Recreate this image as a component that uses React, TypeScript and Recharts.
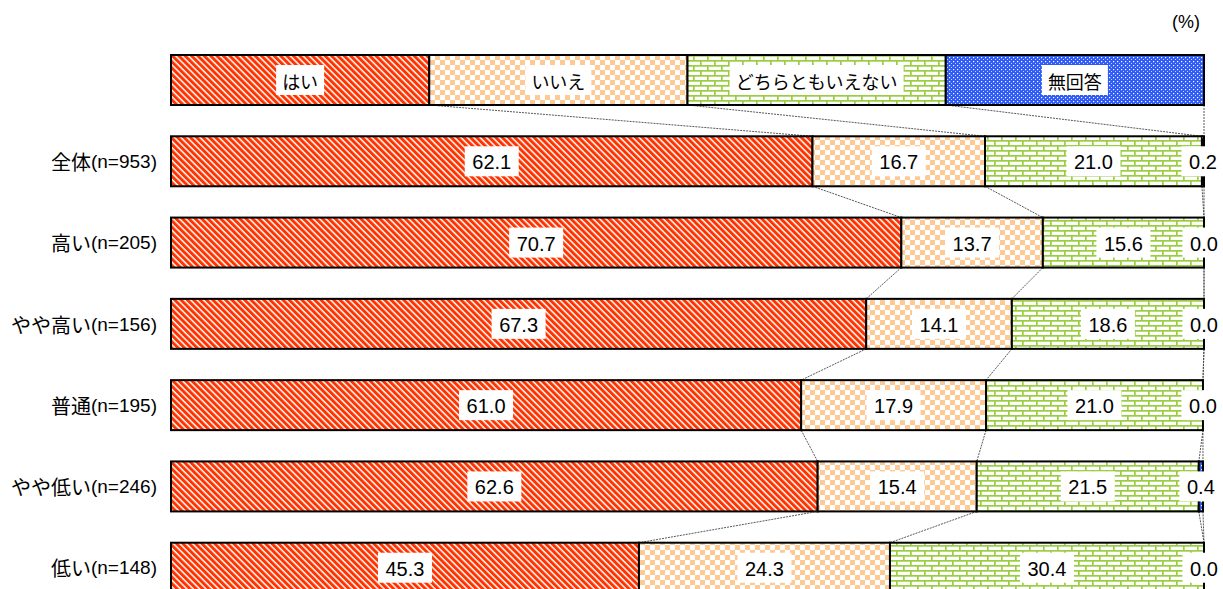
import React from 'react'
import { BarChart, Bar, XAxis, YAxis, LabelList } from 'recharts'

const groups = ['全体(n=953)', '高い(n=205)', 'やや高い(n=156)', '普通(n=195)', 'やや低い(n=246)', '低い(n=148)']
const seriesNames = ['はい', 'いいえ', 'どちらともいえない', '無回答']
const yes = [62.1, 70.7, 67.3, 61.0, 62.6, 45.3]
const no = [16.7, 13.7, 14.1, 17.9, 15.4, 24.3]
const neither = [21.0, 15.6, 18.6, 21.0, 21.5, 30.4]
const noAnswer = [0.2, 0.0, 0.0, 0.0, 0.4, 0.0]
// the legend row on top is drawn as a bar with equal parts
const legendShares = [25, 25, 25, 25]

const W = 1223
const H = 620
const MARGIN = { top: 39, right: 19, bottom: 12, left: 0 }
const JP = "'Noto Sans CJK JP', 'Noto Sans', sans-serif"
const NUM = "'Liberation Sans', Arial, sans-serif"

const FILLS = ['url(#pYes)', 'url(#pNo)', 'url(#pNeither)', 'url(#pNa)']
const KEYS = ['v0', 'v1', 'v2', 'v3']

const rows = [
  { name: '', legend: true, v0: legendShares[0], v1: legendShares[1], v2: legendShares[2], v3: legendShares[3] },
  ...groups.map((g, i) => ({ name: g, legend: false, v0: yes[i], v1: no[i], v2: neither[i], v3: noAnswer[i] })),
]

const STEP = (H - MARGIN.top - MARGIN.bottom) / rows.length

const cumulative = (r: any) => {
  const out: number[] = []
  let s = 0
  KEYS.forEach((k) => {
    s += r[k]
    out.push(s)
  })
  return out
}

const makeShape = (series: number) => (props: any) => {
  const { x, y, width, height, index } = props
  const rect =
    width > 0.01 ? (
      <rect x={x} y={y} width={width} height={height} fill={FILLS[series]} stroke="#000" strokeWidth={2} />
    ) : null
  if (series !== 0 || index >= rows.length - 1) return <g>{rect}</g>
  // connectors to the next row, drawn from the first segment
  const scale = width / rows[index].v0
  const cur = cumulative(rows[index])
  const next = cumulative(rows[index + 1])
  return (
    <g>
      {rect}
      {cur.map((c, k) => (
        <line
          key={k}
          x1={x + c * scale}
          y1={y + height}
          x2={x + next[k] * scale}
          y2={y + STEP}
          stroke="#444"
          strokeWidth={0.9}
          strokeDasharray="2 1"
        />
      ))}
    </g>
  )
}

const makeLabel = (series: number) => (props: any) => {
  const { x, y, width, height, value, index } = props
  const isLegend = index === 0
  const text = isLegend ? seriesNames[series] : Number(value).toFixed(1)
  const cx = x + width / 2
  const cy = y + height / 2
  const tw = isLegend ? text.length * 18 + 12 : text.replace('.', '').length * 11 + 5 + 16
  return (
    <g>
      <rect x={cx - tw / 2} y={cy - 15} width={tw} height={30} fill="#fff" />
      <text
        x={cx}
        y={cy + 1}
        textAnchor="middle"
        dominantBaseline="central"
        fill="#000"
        style={{ fontSize: isLegend ? 18 : 20, fontFamily: isLegend ? JP : NUM, fontWeight: 400 }}
      >
        {text}
      </text>
    </g>
  )
}

const GroupTick = (props: any) => {
  const { x, y, payload } = props
  const label: string = payload.value || ''
  const cut = label.indexOf('(')
  const head = cut >= 0 ? label.slice(0, cut) : label
  const tail = cut >= 0 ? label.slice(cut) : ''
  return (
    <text x={x} y={y} textAnchor="end" dominantBaseline="central" fill="#000">
      <tspan style={{ fontFamily: JP, fontSize: 20 }}>{head}</tspan>
      <tspan style={{ fontFamily: NUM, fontSize: 19 }}>{tail}</tspan>
    </text>
  )
}

export default function App() {
  return (
    <div style={{ position: 'absolute', left: 0, top: 0, width: W, height: H, background: '#fff' }}>
      <div style={{ position: 'absolute', left: 1172, top: 12, fontFamily: NUM, fontSize: 18, color: '#000' }}>(%)</div>
      <BarChart width={W} height={H} data={rows} layout="vertical" margin={MARGIN} barSize={50}>
        <defs>
          <pattern id="pYes" width="4.5" height="4.5" patternUnits="userSpaceOnUse" patternTransform="rotate(-45)">
            <rect width="4.5" height="4.5" fill="#fff" />
            <rect width="3" height="4.5" fill="#ff3300" />
          </pattern>
          <pattern id="pNo" width="10" height="10" patternUnits="userSpaceOnUse">
            <rect width="10" height="10" fill="#fff" />
            <rect width="5" height="5" fill="#ffc993" />
            <rect x="5" y="5" width="5" height="5" fill="#ffc993" />
          </pattern>
          <pattern id="pNeither" width="14" height="10" patternUnits="userSpaceOnUse">
            <rect width="14" height="10" fill="#fff" />
            <rect y="0" width="14" height="1.7" fill="#9acd42" />
            <rect y="5" width="14" height="1.7" fill="#9acd42" />
            <rect x="0" y="0" width="1.7" height="5" fill="#9acd42" />
            <rect x="7" y="5" width="1.7" height="5" fill="#9acd42" />
          </pattern>
          <pattern id="pNa" width="4" height="4" patternUnits="userSpaceOnUse">
            <rect width="4" height="4" fill="#2e5cf5" />
            <rect x="1" y="1" width="1.2" height="1.2" fill="#fff" />
            <rect x="3" y="3" width="1" height="1" fill="#c8d4ff" />
          </pattern>
        </defs>
        <XAxis type="number" domain={[0, 100]} hide />
        <YAxis
          type="category"
          dataKey="name"
          width={171}
          axisLine={false}
          tickLine={false}
          tickSize={0}
          tickMargin={14}
          interval={0}
          tick={<GroupTick />}
        />
        {KEYS.map((k, s) => (
          <Bar key={k} dataKey={k} stackId="a" isAnimationActive={false} shape={makeShape(s)}>
            <LabelList dataKey={k} content={makeLabel(s)} />
          </Bar>
        ))}
      </BarChart>
    </div>
  )
}
